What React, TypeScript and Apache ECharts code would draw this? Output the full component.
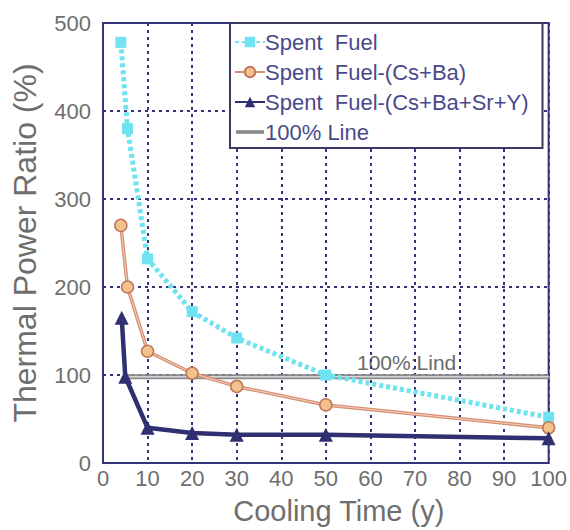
import React, { useEffect, useRef } from "react";
import * as echarts from "echarts";

const coolingTime = [4, 5.5, 10, 20, 30, 50, 100];
const spentFuel = [478, 380, 232, 172, 142, 100, 52];
const minusCsBa = [270, 200, 127, 102, 87, 66, 40];
const triTime = [4.2, 5, 10, 20, 30, 50, 100];
const minusCsBaSrY = [165, 98, 40, 34, 32, 32, 28];
const lineTime = [5.3, 100];
const lineValue = [98, 98];
const xTicks = { min: 0, max: 100, interval: 10 };
const yTicks = { min: 0, max: 500, interval: 100 };
const legendNames = [
  "Spent  Fuel",
  "Spent  Fuel-(Cs+Ba)",
  "Spent  Fuel-(Cs+Ba+Sr+Y)",
  "100% Line",
];

const zip = (xs: number[], ys: number[]) => xs.map((x, i) => [x, ys[i]]);

export default function App() {
  const ref = useRef<HTMLDivElement>(null);
  useEffect(() => {
    const chart = echarts.init(ref.current!, null, { renderer: "svg" });
    const navy = "#34347a";
    const grayText = "#6e6e6e";
    const font = "Liberation Sans";
    chart.setOption({
      animation: false,
      backgroundColor: "#ffffff",
      grid: {
        left: 103,
        right: 21,
        top: 23,
        bottom: 67,
        show: true,
        borderColor: navy,
        borderWidth: 2,
      },
      xAxis: {
        type: "value",
        ...xTicks,
        name: "Cooling Time (y)",
        nameLocation: "middle",
        nameGap: 33,
        nameTextStyle: { color: grayText, fontSize: 29, fontFamily: font, padding: [0, 0, 0, 26] },
        axisLine: { show: true, lineStyle: { color: navy, width: 2 } },
        axisTick: { show: false },
        axisLabel: { color: grayText, fontSize: 22, fontFamily: font, margin: 4 },
        splitLine: { show: true, lineStyle: { color: navy, type: [3, 4], width: 2 } },
      },
      yAxis: {
        type: "value",
        ...yTicks,
        name: "Thermal Power Ratio (%)",
        nameLocation: "middle",
        nameGap: 62,
        nameTextStyle: { color: grayText, fontSize: 32, fontFamily: font },
        axisLine: { show: true, lineStyle: { color: navy, width: 2 } },
        axisTick: { show: false },
        axisLabel: { color: grayText, fontSize: 22, fontFamily: font, margin: 12 },
        splitLine: { show: true, lineStyle: { color: navy, type: [3, 4], width: 2 } },
      },
      legend: {
        orient: "vertical",
        left: 230,
        top: 23,
        padding: [8, 14, 5, 4],
        backgroundColor: "#ffffff",
        borderColor: "#3a3a60",
        borderWidth: 2,
        borderRadius: 0,
        itemGap: 8,
        itemWidth: 30,
        itemHeight: 13,
        textStyle: { color: "#4a4a8a", fontSize: 22, fontFamily: font, padding: [0, 0, 0, -5] },
        data: [
          legendNames[0],
          legendNames[1],
          legendNames[2],
          {
            name: legendNames[3],
            icon: "path://M0,0 L0,0 M0,5 L30,5 L30,9 L0,9 Z M30,14 L30,14",
            itemStyle: { color: "#8a8a8a" },
          },
        ],
      },
      graphic: [
        {
          type: "text",
          left: 357,
          top: 352,
          style: { text: "100%:Lind", fill: "#6a6a6a", fontSize: 21, fontFamily: font },
        },
      ],
      series: [
        {
          name: legendNames[3],
          type: "line",
          data: zip(lineTime, lineValue),
          symbol: "none",
          lineStyle: { color: "#8a8a8a", width: 5 },
          itemStyle: { color: "#8a8a8a" },
          z: 1,
        },
        {
          name: "line-inner",
          type: "line",
          data: zip(lineTime, lineValue),
          symbol: "none",
          lineStyle: { color: "#d8d8d8", width: 1.5 },
          z: 1,
        },
        {
          name: legendNames[0],
          type: "line",
          data: zip(coolingTime, spentFuel),
          symbol: "rect",
          symbolSize: 11,
          lineStyle: { color: "#6fe3ef", width: 5, type: [4, 3] },
          itemStyle: { color: "#6fe3ef" },
          z: 2,
        },
        {
          name: legendNames[1],
          type: "line",
          data: zip(coolingTime, minusCsBa),
          symbol: "circle",
          symbolSize: 12,
          lineStyle: { color: "#d48f76", width: 3.5 },
          itemStyle: { color: "#f3c28c", borderColor: "#c0765a", borderWidth: 1.5 },
          z: 3,
        },
        {
          name: "csba-inner",
          type: "line",
          data: zip(coolingTime, minusCsBa),
          symbol: "none",
          lineStyle: { color: "#f6d2b8", width: 1 },
          z: 3,
        },
        {
          name: legendNames[2],
          type: "line",
          data: zip(triTime, minusCsBaSrY),
          symbol: "triangle",
          symbolSize: 14,
          lineStyle: { color: "#2f2f72", width: 4.5 },
          itemStyle: { color: "#2f2f72" },
          z: 4,
        },
      ],
    });
    return () => chart.dispose();
  }, []);
  return <div ref={ref} style={{ width: 570, height: 530, position: "absolute", left: 0, top: 0 }} />;
}
